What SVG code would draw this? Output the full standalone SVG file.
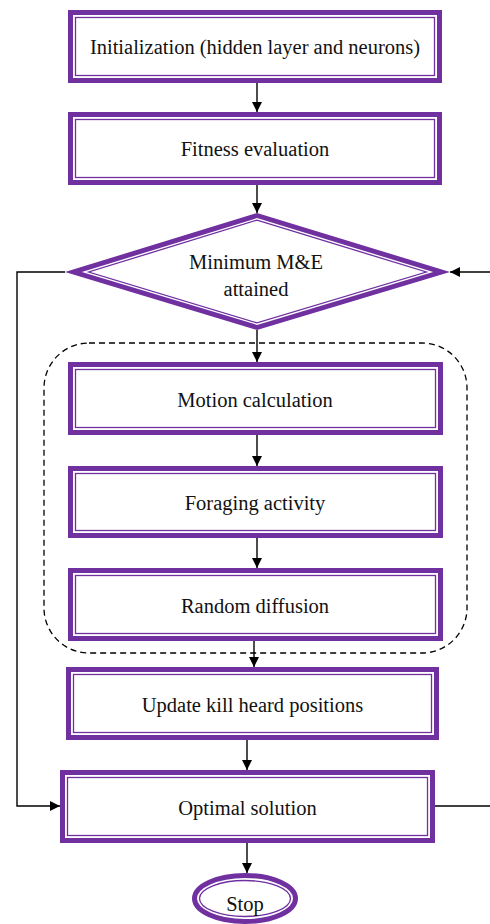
<svg xmlns="http://www.w3.org/2000/svg" width="490" height="924" viewBox="0 0 490 924">
  <defs>
    <style>
      .thick { fill: none; stroke: #7030A0; stroke-width: 5; }
      .thin { fill: none; stroke: #7030A0; stroke-width: 1.3; }
      .bg { fill: #ffffff; }
      .lbl { font-family: "Liberation Serif", "Times New Roman", serif; font-size: 20.5px; fill: #111; text-anchor: middle; }
      .wire { fill: none; stroke: #000; stroke-width: 1.4; }
      .dash { fill: none; stroke: #000; stroke-width: 1.3; stroke-dasharray: 6 4; }
    </style>
    <marker id="head" markerUnits="userSpaceOnUse" markerWidth="10" markerHeight="10" viewBox="0 0 10 10" refX="10" refY="5" orient="auto">
      <path d="M0,0 L10,5 L0,10 Z" fill="#000"/>
    </marker>
  </defs>

  <rect x="0" y="0" width="490" height="924" fill="#ffffff"/>

  <!-- dashed grouping around the inner loop steps -->
  <rect class="dash" x="44" y="343" width="423" height="310" rx="45" ry="45"/>

  <g id="connectors">
    <line class="wire" x1="257" y1="83" x2="257" y2="112" marker-end="url(#head)"/>
    <line class="wire" x1="257" y1="185" x2="257" y2="213" marker-end="url(#head)"/>
    <line class="wire" x1="257" y1="330" x2="257" y2="362" marker-end="url(#head)"/>
    <line class="wire" x1="257" y1="435" x2="257" y2="466" marker-end="url(#head)"/>
    <line class="wire" x1="257" y1="538" x2="257" y2="568" marker-end="url(#head)"/>
    <line class="wire" x1="254" y1="641" x2="254" y2="667" marker-end="url(#head)"/>
    <line class="wire" x1="247" y1="740" x2="247" y2="770" marker-end="url(#head)"/>
    <line class="wire" x1="247" y1="843" x2="247" y2="873" marker-end="url(#head)"/>
    <polyline class="wire" points="65,272 17,272 17,806 60,806" marker-end="url(#head)"/>
    <line class="wire" x1="490" y1="272" x2="450" y2="272" marker-end="url(#head)"/>
    <line class="wire" x1="435" y1="806" x2="490" y2="806"/>
  </g>

  <g id="init">
    <rect class="bg" x="68" y="10" width="374" height="73"/>
    <rect class="thick" x="70.5" y="12.5" width="369" height="68"/>
    <rect class="thin" x="75.5" y="17.5" width="359" height="58"/>
    <text class="lbl" x="255" y="54">Initialization (hidden layer and neurons)</text>
  </g>

  <g id="fitness">
    <rect class="bg" x="68" y="112" width="374" height="73"/>
    <rect class="thick" x="70.5" y="114.5" width="369" height="68"/>
    <rect class="thin" x="75.5" y="119.5" width="359" height="58"/>
    <text class="lbl" x="255" y="156">Fitness evaluation</text>
  </g>

  <g id="decision">
    <polygon points="257,213 450,272 257,330 65,272" fill="#7030A0"/>
    <polygon points="257,218.1 433.2,272 257,324.9 81.8,272" fill="#ffffff"/>
    <polygon class="thin" points="257,220.1 426.3,272 257,322.9 88.7,272"/>
    <text class="lbl" x="256" y="269">Minimum M&amp;E</text>
    <text class="lbl" x="256" y="296">attained</text>
  </g>

  <g id="motion">
    <rect class="bg" x="68" y="362" width="375" height="73"/>
    <rect class="thick" x="70.5" y="364.5" width="370" height="68"/>
    <rect class="thin" x="75.5" y="369.5" width="360" height="58"/>
    <text class="lbl" x="255" y="407">Motion calculation</text>
  </g>

  <g id="foraging">
    <rect class="bg" x="68" y="466" width="375" height="72"/>
    <rect class="thick" x="70.5" y="468.5" width="370" height="67"/>
    <rect class="thin" x="75.5" y="473.5" width="360" height="57"/>
    <text class="lbl" x="255" y="510">Foraging activity</text>
  </g>

  <g id="diffusion">
    <rect class="bg" x="68" y="568" width="375" height="73"/>
    <rect class="thick" x="70.5" y="570.5" width="370" height="68"/>
    <rect class="thin" x="75.5" y="575.5" width="360" height="58"/>
    <text class="lbl" x="255" y="613">Random diffusion</text>
  </g>

  <g id="update">
    <rect class="bg" x="66" y="667" width="373" height="73"/>
    <rect class="thick" x="68.5" y="669.5" width="368" height="68"/>
    <rect class="thin" x="73.5" y="674.5" width="358" height="58"/>
    <text class="lbl" x="252.5" y="712">Update kill heard positions</text>
  </g>

  <g id="optimal">
    <rect class="bg" x="60" y="770" width="375" height="73"/>
    <rect class="thick" x="62.5" y="772.5" width="370" height="68"/>
    <rect class="thin" x="67.5" y="777.5" width="360" height="58"/>
    <text class="lbl" x="247.5" y="815">Optimal solution</text>
  </g>

  <g id="stop">
    <ellipse class="bg" cx="245" cy="898.5" rx="53" ry="25.5"/>
    <ellipse class="thick" cx="245" cy="898.5" rx="50.5" ry="23"/>
    <ellipse class="thin" cx="245" cy="898.5" rx="45.5" ry="18"/>
    <text class="lbl" x="245" y="911">Stop</text>
  </g>
</svg>
